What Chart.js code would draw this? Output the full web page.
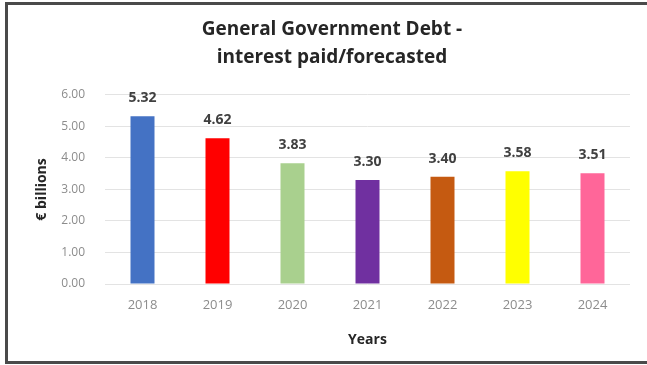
<!DOCTYPE html>
<html>
<head>
<meta charset="utf-8">
<script src="https://cdn.jsdelivr.net/npm/chart.js@4"></script>
<style>
  html, body { margin: 0; padding: 0; background: #fff; overflow: hidden; }
  #wrap { position: relative; width: 647px; height: 365px; overflow: hidden; }
  #frame { position: absolute; box-sizing: border-box; left: 5px; top: 2px; width: 660px; height: 362px;
           border: 3px solid #4a4a4a; border-right: none; pointer-events: none; }
</style>
</head>
<body>
<div id="wrap">
  <canvas id="chart" width="647" height="365"></canvas>
  <div id="frame"></div>
</div>
<script>
const years = ['2018', '2019', '2020', '2021', '2022', '2023', '2024'];
const interest = [5.32, 4.62, 3.83, 3.30, 3.40, 3.58, 3.51];
const barColors = ['#4472C4', '#FF0000', '#A9D08E', '#7030A0', '#C55A11', '#FFFF00', '#FF6699'];
const yTicks = [0, 1, 2, 3, 4, 5, 6];

// value labels above each bar
const valueLabels = {
  id: 'valueLabels',
  afterDatasetsDraw(chart) {
    const ctx = chart.ctx;
    const meta = chart.getDatasetMeta(0);
    ctx.save();
    ctx.font = 'bold 14px "Open Sans"';
    ctx.fillStyle = '#404040';
    ctx.textAlign = 'center';
    ctx.textBaseline = 'middle';
    meta.data.forEach((bar, i) => {
      ctx.fillText(interest[i].toFixed(2), bar.x, bar.y - 18);
    });
    ctx.restore();
  }
};

new Chart(document.getElementById('chart'), {
  type: 'bar',
  data: {
    labels: years,
    datasets: [{
      data: interest,
      backgroundColor: barColors,
      barPercentage: 0.32,
      categoryPercentage: 1
    }]
  },
  options: {
    responsive: false,
    animation: false,
    layout: { padding: { left: 34, right: 17, top: 16, bottom: 10 } },
    plugins: {
      legend: { display: false },
      tooltip: { enabled: false },
      title: {
        display: true,
        text: ['General Government Debt -', 'interest paid/forecasted'],
        color: '#262626',
        font: { family: '"Open Sans"', size: 19, weight: 'bold', lineHeight: 1.47 },
        padding: { top: 0, bottom: 23 }
      }
    },
    scales: {
      x: {
        afterFit: s => { s.height = 71; },
        grid: { display: false, drawTicks: false },
        border: { display: false },
        ticks: { color: '#8c8c8c', padding: 13, font: { family: '"Open Sans"', size: 13 } },
        title: {
          display: true, text: 'Years', color: '#262626',
          font: { family: '"Open Sans"', size: 14, weight: 'bold' },
          padding: { top: 0, bottom: 7 }
        }
      },
      y: {
        min: 0, max: 6,
        afterFit: s => { s.width = 71; },
        afterBuildTicks: s => { s.ticks = yTicks.map(v => ({ value: v })); },
        ticks: {
          color: '#8c8c8c', padding: 20,
          font: { family: '"Open Sans"', size: 12 },
          callback: v => v.toFixed(2)
        },
        grid: { color: '#e3e3e3', drawTicks: false },
        border: { display: false },
        title: {
          display: true, text: '€ billions', color: '#262626',
          font: { family: '"Open Sans"', size: 14, weight: 'bold' },
          padding: { top: 0, bottom: 0 }
        }
      }
    }
  },
  plugins: [valueLabels]
});
</script>
</body>
</html>
